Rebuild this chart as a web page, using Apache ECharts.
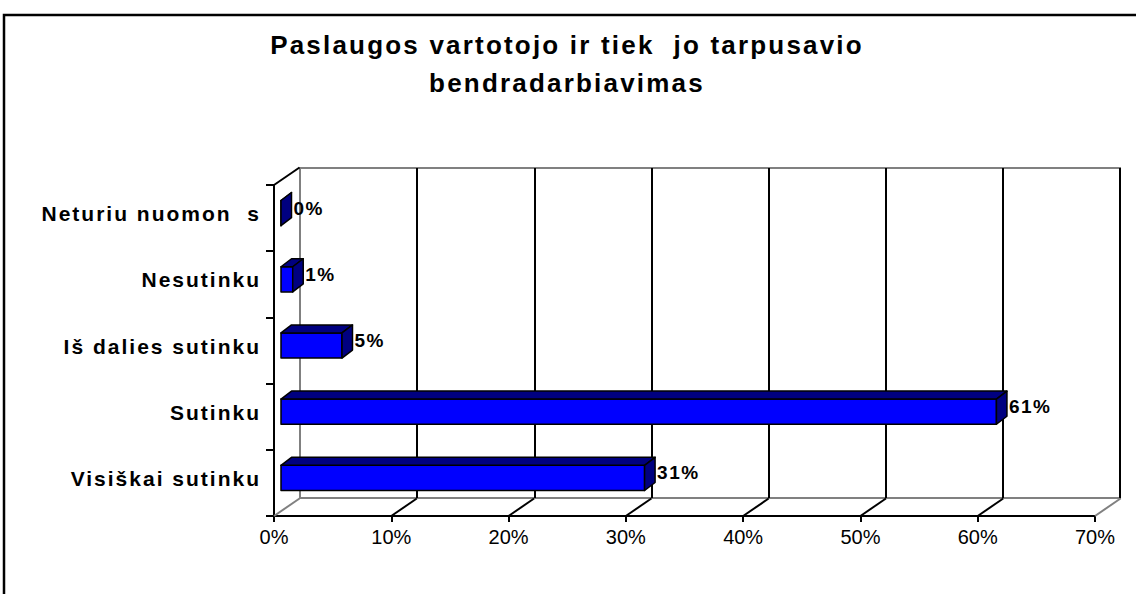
<!DOCTYPE html>
<html>
<head>
<meta charset="utf-8">
<script src="https://cdn.jsdelivr.net/npm/echarts@6/dist/echarts.min.js"></script>
<style>
  html, body { margin: 0; padding: 0; background: #fff; }
  #chart { width: 1136px; height: 594px; }
  #chart text { white-space: pre; }
  /* the reference prints its bold texts with wide letter spacing */
  #chart text[style*="font-size: 26px"] { letter-spacing: 2.2px; }
  #chart text[style*="font-size: 21px"] { letter-spacing: 2px; }
  #chart text[style*="19px"] { letter-spacing: 1.5px; }
</style>
</head>
<body>
<div id="chart"></div>
<script>
    const categories = ['Visiškai sutinku', 'Sutinku', 'Iš dalies sutinku', 'Nesutinku', 'Neturiu nuomon  s']
    const shares = [31, 61, 5.2, 1, 0]
    const xTicks = [0, 10, 20, 30, 40, 50, 60, 70]

    const FONT = '"Liberation Sans", Arial, sans-serif'
    const FRONT = '#0000ff'
    const DARK = '#000080'
    const GREY = '#808080'
    const WALL = [25.5, 17.5]
    const BAR_SHIFT = [7, 5]
    const BAR_DEPTH = [10.5, 8]

    function renderBar (params, api) {
        const cat = api.value(0)
        const v = api.value(1)
        const start = api.coord([0, cat])
        const end = api.coord([v, cat])
        const h = api.size([0, 1])[1] * 0.38
        const x0 = start[0] + BAR_SHIFT[0]
        const x1 = end[0] + BAR_SHIFT[0]
        const yc = start[1] - BAR_SHIFT[1]
        const y0 = yc - h / 2
        const y1 = yc + h / 2
        const dx = BAR_DEPTH[0]
        const dy = BAR_DEPTH[1]
        const edge = { stroke: '#000', lineWidth: 1.5, lineJoin: 'round' }
        return {
            type: 'group',
            children: [
                { type: 'rect', shape: { x: x0, y: y0, width: x1 - x0, height: h }, style: Object.assign({ fill: FRONT }, edge) },
                { type: 'polygon', shape: { points: [[x0, y0], [x1, y0], [x1 + dx, y0 - dy], [x0 + dx, y0 - dy]] }, style: Object.assign({ fill: DARK }, edge) },
                { type: 'polygon', shape: { points: [[x1, y0], [x1 + dx, y0 - dy], [x1 + dx, y1 - dy], [x1, y1]] }, style: Object.assign({ fill: DARK }, edge) },
                {
                    type: 'text',
                    style: {
                        text: Math.round(v) + '%',
                        x: x1 + dx + 2,
                        y: yc - dy / 2 - 1,
                        align: 'left', verticalAlign: 'middle',
                        textAlign: 'left', textVerticalAlign: 'middle',
                        font: 'bold 19px ' + FONT,
                        fill: '#000'
                    }
                }
            ]
        }
    }

    function renderWall (params, api) {
        const cs = params.coordSys
        const v = api.value(0)
        const x = api.coord([v, 0])[0]
        const bottom = cs.y + cs.height
        const edgeTick = v === xTicks[0] || v === xTicks[xTicks.length - 1]
        const children = [{
            type: 'line',
            shape: { x1: x, y1: bottom, x2: x + WALL[0], y2: bottom - WALL[1] },
            style: { stroke: edgeTick ? GREY : '#000', lineWidth: 2 }
        }]
        if (v === xTicks[0]) {
            children.push({
                type: 'line',
                shape: { x1: x, y1: cs.y, x2: x + WALL[0], y2: cs.y - WALL[1] },
                style: { stroke: '#000', lineWidth: 2 }
            })
        }
        return { type: 'group', children: children }
    }

    const chart = echarts.init(document.getElementById('chart'), null, { renderer: 'svg' })
    chart.setOption({
        animation: false,
        backgroundColor: '#fff',
        title: {
            text: 'Paslaugos vartotojo ir tiek  jo tarpusavio\nbendradarbiavimas',
            left: 562,
            top: 21,
            textAlign: 'center',
            textStyle: { fontFamily: FONT, fontSize: 26, fontWeight: 'bold', color: '#000', lineHeight: 38 }
        },
        graphic: [
            { type: 'polyline', shape: { points: [[4, 594], [4, 15], [1136, 15]] }, style: { stroke: '#000', lineWidth: 2.5, fill: null } }
        ],
        grid: [
            { left: 274, right: 41, top: 185, bottom: 78 },
            { left: 300, right: 16, top: 168, bottom: 96, show: true, borderColor: GREY, borderWidth: 2, backgroundColor: 'transparent' }
        ],
        xAxis: [
            {
                gridIndex: 0, type: 'value', min: xTicks[0], max: xTicks[xTicks.length - 1], interval: xTicks[1] - xTicks[0],
                axisLine: { show: true, lineStyle: { color: '#000', width: 2 } },
                axisTick: { show: true, length: 6, lineStyle: { color: '#000', width: 2 } },
                axisLabel: { formatter: '{value}%', margin: 11, fontFamily: FONT, fontSize: 20, color: '#000' },
                splitLine: { show: false }
            },
            {
                gridIndex: 1, type: 'value', min: xTicks[0], max: xTicks[xTicks.length - 1], interval: xTicks[1] - xTicks[0],
                axisLine: { show: false }, axisTick: { show: false }, axisLabel: { show: false },
                splitLine: { show: true, showMinLine: false, lineStyle: { color: '#000', width: 2 } }
            }
        ],
        yAxis: [
            {
                gridIndex: 0, type: 'category', data: categories,
                axisLine: { show: true, lineStyle: { color: '#000', width: 2 } },
                axisTick: { show: true, length: 8, lineStyle: { color: '#000', width: 2 } },
                axisLabel: { margin: 13, fontFamily: FONT, fontSize: 21, fontWeight: 'bold', color: '#000', verticalAlign: 'bottom', lineHeight: 9 }
            },
            { gridIndex: 1, type: 'category', data: categories, show: false }
        ],
        series: [
            {
                type: 'custom', xAxisIndex: 0, yAxisIndex: 0, z: 2,
                renderItem: renderWall,
                encode: { x: 0 },
                data: xTicks.map(t => [t])
            },
            {
                type: 'custom', xAxisIndex: 0, yAxisIndex: 0, z: 5,
                renderItem: renderBar,
                encode: { x: 1, y: 0 },
                data: shares.map((v, i) => [i, v])
            }
        ]
    })
</script>
</body>
</html>
